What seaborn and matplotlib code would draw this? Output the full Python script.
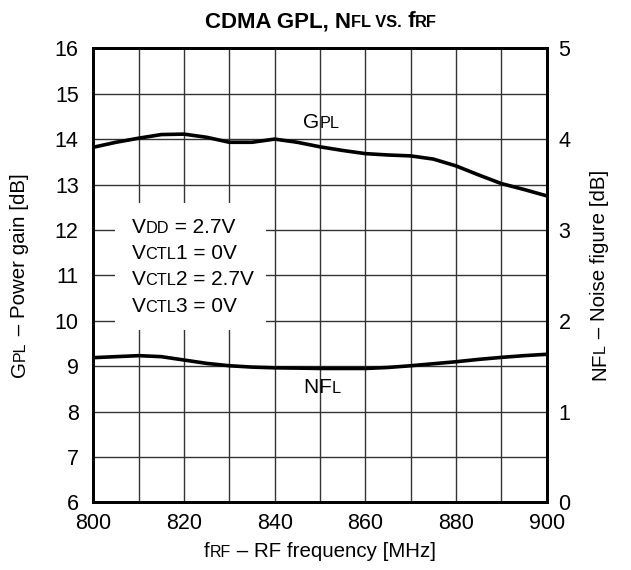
import matplotlib
matplotlib.use("Agg")
import matplotlib.pyplot as plt
from matplotlib.transforms import offset_copy
import seaborn as sns
import pandas as pd

# data
freq_mhz = [800, 805, 810, 815, 820, 825, 830, 835, 840, 845, 850,
            855, 860, 865, 870, 875, 880, 885, 890, 895, 900]
gain_db = [13.82, 13.93, 14.02, 14.10, 14.11, 14.04, 13.93, 13.93, 14.00, 13.93, 13.83,
           13.75, 13.68, 13.65, 13.63, 13.56, 13.41, 13.21, 13.02, 12.89, 12.75]
noise_db = [1.593, 1.604, 1.615, 1.604, 1.567, 1.530, 1.504, 1.489, 1.481, 1.478, 1.474,
            1.474, 1.474, 1.485, 1.504, 1.526, 1.548, 1.574, 1.596, 1.615, 1.630]

x_ticks = [800, 810, 820, 830, 840, 850, 860, 870, 880, 890, 900]
x_labels = ["800", "", "820", "", "840", "", "860", "", "880", "", "900"]
gain_ticks = [6, 7, 8, 9, 10, 11, 12, 13, 14, 15, 16]
noise_ticks = [0, 1, 2, 3, 4, 5]

SC = 0.78  # small-caps size ratio
cond_lines = [
    [("V", 1.0), ("DD", SC), (" = 2.7V", 1.0)],
    [("V", 1.0), ("CTL", SC), ("1 = 0V", 1.0)],
    [("V", 1.0), ("CTL", SC), ("2 = 2.7V", 1.0)],
    [("V", 1.0), ("CTL", SC), ("3 = 0V", 1.0)],
]

sns.set_style("white")
plt.rcParams["font.family"] = ["Liberation Sans", "DejaVu Sans"]
for key in ("text.color", "axes.labelcolor", "xtick.color", "ytick.color"):
    plt.rcParams[key] = "black"

W, H = 631, 570
fig = plt.figure(figsize=(W / 100, H / 100), dpi=100)
ax = fig.add_axes([93.3 / W, 1 - 502.3 / H, 453.4 / W, 454 / H])
ax2 = ax.twinx()

df = pd.DataFrame({"freq": freq_mhz, "gain": gain_db, "nf": noise_db})
sns.lineplot(data=df, x="freq", y="gain", ax=ax, color="black", lw=2.6)
sns.lineplot(data=df, x="freq", y="nf", ax=ax2, color="black", lw=2.6)

ax.set_xlim(800, 900)
ax.set_ylim(6, 16)
ax2.set_ylim(0, 5)
ax.set_xticks(x_ticks)
ax.set_xticklabels(x_labels)
ax.set_yticks(gain_ticks)
ax2.set_yticks(noise_ticks)
ax.set_xlabel("")
ax.set_ylabel("")
ax2.set_ylabel("")
ax.grid(True, color="#333333", lw=1.0)
ax2.grid(False)
ax.tick_params(axis="both", length=0, labelsize=15.5)
ax.tick_params(axis="y", pad=10.5)
ax.tick_params(axis="x", pad=7.5)
ax2.tick_params(axis="y", length=0, labelsize=15.5, pad=8.5)
for lab in ax2.get_yticklabels() + ax.get_yticklabels():
    lab.set_verticalalignment("center_baseline")
for a in (ax, ax2):
    for s in a.spines.values():
        s.set_color("black")
        s.set_linewidth(2)

renderer = fig.canvas.get_renderer()


def rich(x, y, parts, base, transform, rotation=0, center=False, weight="normal"):
    widths = []
    for s, k in parts:
        t = fig.text(0, 0, s, fontsize=base * k, fontweight=weight)
        widths.append(t.get_window_extent(renderer).width)
        t.remove()
    off = -sum(widths) / 2 if center else 0
    for (s, k), w in zip(parts, widths):
        dx, dy = (off, 0) if rotation == 0 else (0, off)
        tr = offset_copy(transform, fig=fig, x=dx, y=dy, units="dots")
        fig.text(x, y, s, transform=tr, fontsize=base * k, fontweight=weight,
                 rotation=rotation, rotation_mode="anchor", ha="left", va="baseline",
                 zorder=6)
        off += w


# conditions box (white patch hiding the grid)
ax.add_patch(plt.Rectangle((804.7, 9.8), 33.5, 2.8, facecolor="white",
                           edgecolor="none", zorder=3))
for i, line in enumerate(cond_lines):
    rich(131.7 / W, 1 - (233 + 26.2 * i) / H, line, 15, fig.transFigure)

# curve labels
rich(846.3, 14.24, [("G", 1.0), ("PL", SC)], 15, ax.transData)
rich(846.3, 8.41, [("N", 1.0), ("F", 1.0), ("L", SC)], 15, ax.transData)

# title and axis labels
rich(321 / W, 1 - 27.3 / H,
     [("CDMA GPL, N", 1.0), ("FL VS.", 0.74), (" f", 1.0), ("RF", 0.74)],
     16, fig.transFigure, center=True, weight="bold")
rich(320 / W, 13.3 / H,
     [("f", 1.0), ("RF", SC), (" \u2013 RF frequency [MHz]", 1.0)],
     14.8, fig.transFigure, center=True)
rich(25 / W, 1 - 275.3 / H,
     [("G", 1.0), ("PL", SC), (" \u2013 Power gain [dB]", 1.0)],
     14.8, fig.transFigure, rotation=90, center=True)
rich(605 / W, 1 - 275.3 / H,
     [("N", 1.0), ("F", 1.0), ("L", SC), (" \u2013 Noise figure [dB]", 1.0)],
     14.8, fig.transFigure, rotation=90, center=True)

fig.savefig("out.png", dpi=100)
plt.close(fig)
